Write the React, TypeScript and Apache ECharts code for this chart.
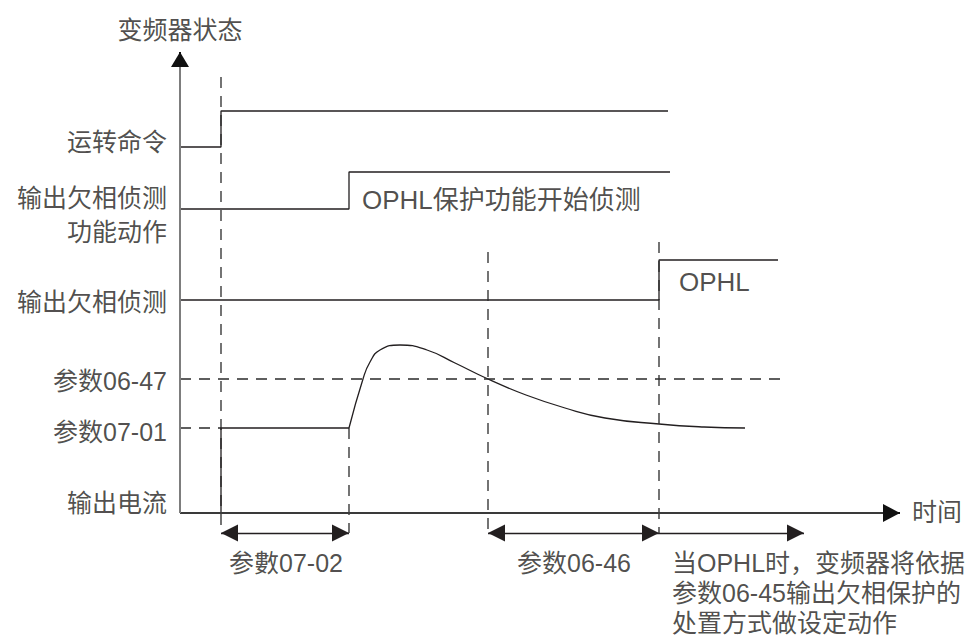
import React, { useEffect, useRef } from "react";
import * as echarts from "echarts";

// ---- data (time units on x, signal level units on y) ----
const eventTimes = [4.1, 16.9, 30.8, 47.9]; // run cmd, detect start, crossing 06-47, OPHL
const runCommand = [[0, 36.6], [4.1, 36.6], [4.1, 40.2], [48.8, 40.2]];
const phaseLossFunction = [[0, 30.4], [16.9, 30.4], [16.9, 34.1], [49.0, 34.1]];
const phaseLossDetect = [[0, 21.3], [47.9, 21.3], [47.9, 25.3], [59.8, 25.3]];
const currentStep = [[4.1, 0], [4.1, 8.5], [16.9, 8.5]];
const currentCurve = [
  [16.9, 8.5], [18.3, 13.4], [19.0, 15.1], [20.0, 16.3], [22.0, 16.8], [24.7, 16.3],
  [27.5, 15.0], [30.8, 13.4], [34.6, 11.8], [38.5, 10.5], [42.5, 9.5],
  [47.9, 8.9], [52.4, 8.6], [56.5, 8.5],
];
const param0647Line = [[0, 13.4], [60.2, 13.4]];
const param0701Line = [[0, 8.5], [4.1, 8.5]];
const markerTops = [43.6, 8.5, 26.1, 27.1];
const markerBottom = -2.0;
const spanStarts = [4.1, 30.8, 47.9];
const spanEnds = [16.9, 47.9, 62.4];
const spanDoubleHeaded = [true, true, false];
const axisEnds = { time: 72, state: 46.1 };

const levelLabels = ["运转命令", "输出欠相侦测\n功能动作", "输出欠相侦测", "参数06-47", "参数07-01", "输出电流"];
const levelLabelY = [37.1, 29.8, 21.1, 13.2, 8.1, 1.0];
const spanLabels = ["参數07-02", "参数06-46"];
const spanLabelX = [10.6, 39.4];
const noteText = "当OPHL时，变频器将依据\n参数06-45输出欠相保护的\n处置方式做设定动作";

const FONT = "'Liberation Sans', 'Noto Sans CJK SC', sans-serif";
const INK = "#231f20";

export default function App() {
  const ref = useRef<HTMLDivElement>(null);
  useEffect(() => {
    const chart = echarts.init(ref.current!, null, { renderer: "svg" });
    const lineSeries = (data: number[][], extra: any = {}) => ({
      type: "line",
      data,
      symbol: "none",
      silent: true,
      clip: false,
      lineStyle: { color: INK, width: 1.3, ...(extra.lineStyle || {}) },
      smooth: extra.smooth || false,
      z: 3,
    });
    const dash = { type: [11, 8], width: 1.3, color: "#2a2a2a" };

    const textBase = { fontFamily: FONT, fontSize: 25, color: INK };
    const textItems: any[] = [];
    levelLabels.forEach((t, i) =>
      textItems.push({
        value: [-1.3, levelLabelY[i]],
        label: { ...textBase, formatter: t, position: "left", distance: 0, align: "right", lineHeight: 34 },
      })
    );
    spanLabels.forEach((t, i) =>
      textItems.push({
        value: [spanLabelX[i], -5.0],
        label: { ...textBase, fontSize: 25, formatter: t, position: "inside", align: "center" },
      })
    );
    textItems.push({
      value: [49.2, -8.0],
      label: { ...textBase, fontSize: 25, formatter: noteText, position: "right", distance: 0, align: "left", lineHeight: 30 },
    });
    textItems.push({
      value: [0, 48.3],
      label: { ...textBase, fontSize: 25, formatter: "变频器状态", position: "inside", align: "center" },
    });
    textItems.push({
      value: [18.2, 31.3],
      label: { ...textBase, fontSize: 26, formatter: "OPHL保护功能开始侦测", position: "right", distance: 0, align: "left" },
    });
    textItems.push({
      value: [49.9, 23.1],
      label: { ...textBase, fontSize: 26, formatter: "OPHL", position: "right", distance: 0, align: "left" },
    });
    textItems.push({
      value: [73.2, 0.1],
      label: { ...textBase, fontSize: 25, formatter: "时间", position: "right", distance: 0, align: "left" },
    });

    const head = (coord: number[], size: number[]) => ({
      coord,
      symbol: "triangle",
      symbolSize: size,
      symbolOffset: [0, "50%"],
    });
    const plain = (coord: number[]) => ({ coord, symbol: "none" });

    const spanLines = spanStarts.map((s, i) => [
      spanDoubleHeaded[i] ? head([s, markerBottom], [17, 17]) : plain([s, markerBottom]),
      head([spanEnds[i], markerBottom], [17, 17]),
    ]);

    chart.setOption({
      animation: false,
      grid: { left: 0, right: 0, top: 23, bottom: 6 },
      xAxis: { type: "value", min: -18, max: 79.7, show: false },
      yAxis: { type: "value", min: -12, max: 49, show: false },
      series: [
        lineSeries(runCommand),
        lineSeries(phaseLossFunction),
        lineSeries(phaseLossDetect),
        lineSeries(currentCurve, { smooth: 0.5 }),
        lineSeries(param0647Line, { lineStyle: dash }),
        lineSeries(param0701Line, { lineStyle: dash }),
        ...eventTimes.map((t, i) => lineSeries([[t, markerTops[i]], [t, markerBottom]], { lineStyle: dash })),
        {
          ...lineSeries(currentStep),
          markLine: {
            silent: true,
            animation: false,
            label: { show: false },
            lineStyle: { color: INK, width: 1.3, type: "solid" },
            emphasis: { disabled: true },
            data: [
              [
                { ...plain([0, 0]), lineStyle: { color: "#3a3a3a", width: 2, type: "solid" } },
                plain([axisEnds.time - 1, 0]),
              ],
              [
                { ...plain([axisEnds.time - 1.5, 0]), lineStyle: { color: "#111", width: 2, type: "solid" } },
                head([axisEnds.time, 0], [18, 17]),
              ],
              [
                { ...plain([0, 0]), lineStyle: { color: "#7d7d7d", width: 2, type: "solid" } },
                plain([0, axisEnds.state - 1]),
              ],
              [
                { ...plain([0, axisEnds.state - 1.3]), lineStyle: { color: "#111", width: 2, type: "solid" } },
                head([0, axisEnds.state], [18, 15]),
              ],
              ...spanLines,
            ],
          },
        },
        {
          type: "scatter",
          symbolSize: 0,
          silent: true,
          clip: false,
          data: textItems,
          label: { show: true },
          z: 5,
        },
      ],
    });
    return () => chart.dispose();
  }, []);
  return <div ref={ref} style={{ width: 977, height: 639, position: "absolute", left: 0, top: 0 }} />;
}
